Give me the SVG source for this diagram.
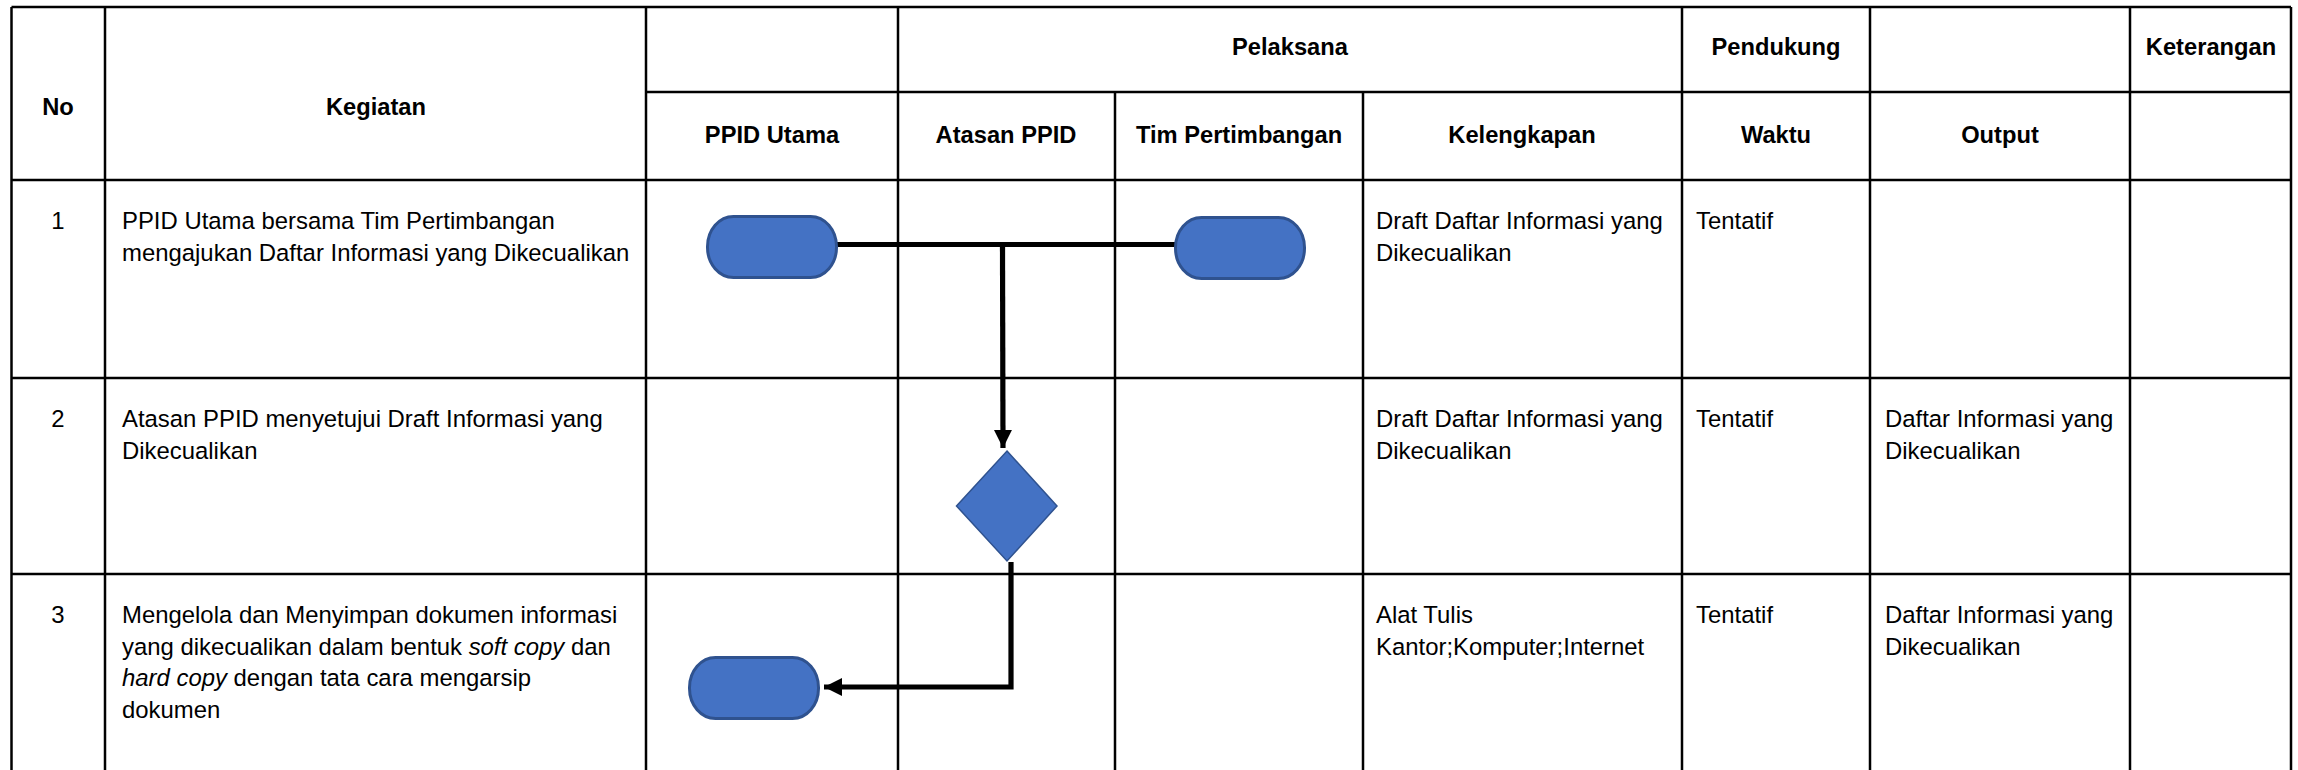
<svg xmlns="http://www.w3.org/2000/svg" width="2298" height="770" viewBox="0 0 2298 770">
<defs>
<style>
.grid line{stroke:#000;stroke-width:2.5}
.hd{font-family:"Liberation Sans",Arial,sans-serif;font-weight:bold;font-size:23.7px;fill:#000;text-anchor:middle}
.tx{font-family:"Liberation Sans",Arial,sans-serif;font-size:23.9px;fill:#000}
.num{text-anchor:middle}
.term{fill:#4472C4;stroke:#2F528F;stroke-width:3}
.dec{fill:#4472C4;stroke:#2F528F;stroke-width:1.5}
.conn{fill:none;stroke:#000;stroke-width:5.2}
</style>
<marker id="ah" viewBox="0 0 10 10" refX="10" refY="5" markerWidth="3.5" markerHeight="3.5" markerUnits="strokeWidth" orient="auto">
<path d="M0,0 L10,5 L0,10 z" fill="#000"/>
</marker>
</defs>
<rect x="0" y="0" width="2298" height="770" fill="#fff"/>
<g id="table" class="grid">
<line x1="11.5" y1="7" x2="2291" y2="7"/>
<line x1="646" y1="92" x2="2291" y2="92"/>
<line x1="11.5" y1="180" x2="2291" y2="180"/>
<line x1="11.5" y1="378" x2="2291" y2="378"/>
<line x1="11.5" y1="574" x2="2291" y2="574"/>
<line x1="11.5" y1="7" x2="11.5" y2="770"/>
<line x1="105" y1="7" x2="105" y2="770"/>
<line x1="646" y1="7" x2="646" y2="770"/>
<line x1="898" y1="7" x2="898" y2="770"/>
<line x1="1115" y1="92" x2="1115" y2="770"/>
<line x1="1363" y1="92" x2="1363" y2="770"/>
<line x1="1682" y1="7" x2="1682" y2="770"/>
<line x1="1870" y1="7" x2="1870" y2="770"/>
<line x1="2130" y1="7" x2="2130" y2="770"/>
<line x1="2291" y1="7" x2="2291" y2="770"/>
</g>
<g id="headers">
<text class="hd" x="58" y="115">No</text>
<text class="hd" x="376" y="115">Kegiatan</text>
<text class="hd" x="1290" y="55">Pelaksana</text>
<text class="hd" x="1776" y="55">Pendukung</text>
<text class="hd" x="2211" y="55">Keterangan</text>
<text class="hd" x="772" y="143">PPID Utama</text>
<text class="hd" x="1006" y="143">Atasan PPID</text>
<text class="hd" x="1239" y="143">Tim Pertimbangan</text>
<text class="hd" x="1522" y="143">Kelengkapan</text>
<text class="hd" x="1776" y="143">Waktu</text>
<text class="hd" x="2000" y="143">Output</text>
</g>
<g id="row1">
<text class="tx num" x="58" y="229">1</text>
<text class="tx" x="122" y="229">PPID Utama bersama Tim Pertimbangan</text>
<text class="tx" x="122" y="260.5">mengajukan Daftar Informasi yang Dikecualikan</text>
<text class="tx" x="1376" y="229">Draft Daftar Informasi yang</text>
<text class="tx" x="1376" y="260.5">Dikecualikan</text>
<text class="tx" x="1696" y="229">Tentatif</text>
</g>
<g id="row2">
<text class="tx num" x="58" y="427">2</text>
<text class="tx" x="122" y="427">Atasan PPID menyetujui Draft Informasi yang</text>
<text class="tx" x="122" y="458.5">Dikecualikan</text>
<text class="tx" x="1376" y="427">Draft Daftar Informasi yang</text>
<text class="tx" x="1376" y="458.5">Dikecualikan</text>
<text class="tx" x="1696" y="427">Tentatif</text>
<text class="tx" x="1885" y="427">Daftar Informasi yang</text>
<text class="tx" x="1885" y="458.5">Dikecualikan</text>
</g>
<g id="row3">
<text class="tx num" x="58" y="623">3</text>
<text class="tx" x="122" y="623">Mengelola dan Menyimpan dokumen informasi</text>
<text class="tx" x="122" y="654.5">yang dikecualikan dalam bentuk <tspan font-style="italic">soft copy</tspan> dan</text>
<text class="tx" x="122" y="686"><tspan font-style="italic">hard copy</tspan> dengan tata cara mengarsip</text>
<text class="tx" x="122" y="717.5">dokumen</text>
<text class="tx" x="1376" y="623">Alat Tulis</text>
<text class="tx" x="1376" y="654.5">Kantor;Komputer;Internet</text>
<text class="tx" x="1696" y="623">Tentatif</text>
<text class="tx" x="1885" y="623">Daftar Informasi yang</text>
<text class="tx" x="1885" y="654.5">Dikecualikan</text>
</g>
<g id="connectors">
<line class="conn" x1="836" y1="244.5" x2="1176" y2="244.5"/>
<line class="conn" x1="1002.5" y1="247" x2="1003" y2="448" marker-end="url(#ah)"/>
<polyline class="conn" points="1011,562 1011,687 824,687" marker-end="url(#ah)"/>
</g>
<g id="node-start-ppid">
<rect class="term" x="707.5" y="216.5" width="129" height="61" rx="26" ry="30"/>
</g>
<g id="node-start-tim">
<rect class="term" x="1175.5" y="217.5" width="129" height="61" rx="26" ry="30"/>
</g>
<g id="node-decision">
<polygon class="dec" points="1007,451 1057,506 1007,561 956.5,506"/>
</g>
<g id="node-end">
<rect class="term" x="689.5" y="657.5" width="129" height="61" rx="26" ry="30"/>
</g>
</svg>
